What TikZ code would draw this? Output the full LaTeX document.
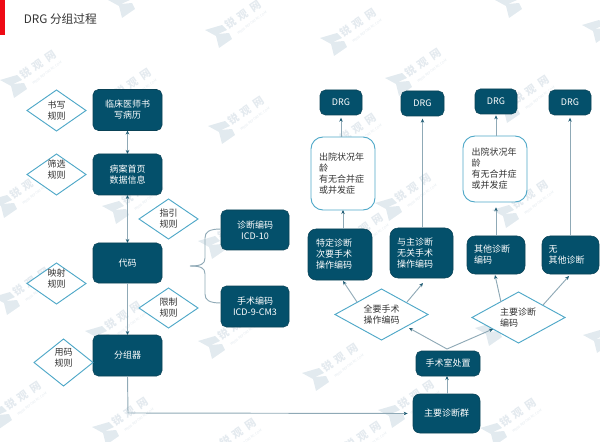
\documentclass[tikz,border=0pt]{standalone}
\usepackage{fontspec}
\setmainfont{Noto Sans CJK SC}
\usetikzlibrary{shapes.geometric,arrows.meta,calc}
\definecolor{boxc}{HTML}{04506B}
\definecolor{boxl}{HTML}{0A4256}
\definecolor{diac}{HTML}{4FA8C8}
\definecolor{linec}{HTML}{8FA9B6}
\definecolor{tipc}{HTML}{1F5C74}
\definecolor{txtc}{HTML}{333333}
\definecolor{wmc}{HTML}{E4EAEF}
\definecolor{wmd}{HTML}{E2EAEF}
\definecolor{barc}{HTML}{EE0A14}
\tikzset{
  x=0.75pt,y=-0.75pt,
  sz/.style 2 args={minimum width=#1*0.75pt,minimum height=#2*0.75pt,inner sep=0pt,outer sep=0pt},
  lab/.style={font=\fontsize{6.75}{8.25}\selectfont,align=center,text=txtc},
  boxn/.style={draw=boxl,line width=0.4pt,fill=boxc,rounded corners=4pt,text=white,align=center,font=\fontsize{6.75}{8.25}\selectfont},
  boxleft/.style={boxn,rounded corners=6pt,align=left,text width=#1*0.75pt},
  whiten/.style={draw=diac,line width=0.7pt,fill=white,rounded corners=9pt,text=txtc,font=\fontsize{6.75}{8.25}\selectfont,align=left,text width=#1*0.75pt},
  dia/.style={diamond,draw=diac,line width=0.7pt,fill=white},
  conn/.style={draw=linec,line width=0.7pt,-{Stealth[length=3pt,width=2.6pt,color=tipc]}},
  conn2/.style={draw=linec,line width=0.7pt,{Stealth[length=3pt,width=2.6pt,color=tipc]}-{Stealth[length=3pt,width=2.6pt,color=tipc]}},
  plain/.style={draw=linec,line width=0.7pt},
  wmlogo/.pic={\fill[wmd] (-15,-7) -- (2,-12) -- (7,-7) -- (-2,-3) -- (9,-4) -- (12,2) -- (-1,11) -- (-4,-1) -- cycle;},
  wmtext/.style={rotate=34,text=wmc,font=\bfseries\fontsize{8}{8}\selectfont,inner sep=0pt},
  wmurl/.style={rotate=37,text=wmc,font=\fontsize{2.6}{3}\selectfont,inner sep=0pt},
}
\begin{document}
\begin{tikzpicture}
\useasboundingbox (0,0) rectangle (600,442);
\begin{scope}
\clip (0,0) rectangle (600,442);
% logos whose lettering runs off the page
\foreach \wx/\wy in {123/7,510/7,597/32,598/342}{
  \pic at (\wx,\wy) {wmlogo};
}
\foreach \i/\wx/\wy in {1/15/87,3/220/37,4/223/133,5/5/207,6/117/213,7/110/105,8/8/304,9/100/338,10/0/418,11/107/434,12/213/348,13/213/248,14/335/45,15/400/85,18/508/112,19/335/150,20/507/217,21/390/210,22/342/250,23/317/380,24/490/335,25/393/417,26/495/435,28/215/455,29/340/458}{
  \pic at (\wx,\wy) {wmlogo};
  \node[wmtext] (wmt\i) at ($(\wx,\wy)+(23,-22)$) {锐\hspace{3.5pt}观\hspace{3.5pt}网};
  \node[wmurl] (wmu\i) at ($(\wx,\wy)+(32,-14)$) {WWW.REPORTRC.COM};
}
\end{scope}
\fill[barc] (0,0) rectangle (5,35);
\node[anchor=west,inner sep=0pt,text=txtc,font=\fontsize{8.8}{10}\selectfont] (title) at (23.5,19.5) {DRG 分组过程};
% left column
\node[boxn,sz={69}{41}] (a) at (127.5,110) {临床医师书\\写病历};
\node[boxn,sz={69}{41}] (b) at (127.5,174.5) {病案首页\\数据信息};
\node[boxn,sz={69}{40}] (c) at (127.5,263) {代码};
\node[boxn,sz={69}{41}] (d) at (127.5,355.5) {分组器};
\node[boxn,sz={68}{40}] (e) at (255,230) {诊断编码\\ICD-10};
\node[boxn,sz={68}{41}] (f) at (255,306.5) {手术编码\\ICD-9-CM3};
% diamonds
\node[dia,sz={59}{41},shape aspect=1.44,lab] (r1) at (56.5,110.5) {书写\\规则};
\node[dia,sz={59}{41},shape aspect=1.44,label={[lab,yshift=3.75pt]center:筛选\\规则}] (r2) at (56.5,174.5) {};
\node[dia,sz={59}{40},shape aspect=1.47,lab] (r3) at (168.5,219) {指引\\规则};
\node[dia,sz={59}{41},shape aspect=1.44,label={[lab,yshift=3.75pt]center:映射\\规则}] (r4) at (56.5,283.5) {};
\node[dia,sz={59}{40},shape aspect=1.47,lab] (r5) at (168.5,308) {限制\\规则};
\node[dia,sz={59}{47},shape aspect=1.255,label={[lab,yshift=3.75pt]center:用码\\规则}] (r6) at (63.5,362.5) {};
% right
\node[boxn,sz={42}{25}] (g1) at (341,102.5) {DRG};
\node[boxn,sz={43}{25}] (g2) at (422.5,103.5) {DRG};
\node[boxn,sz={42}{25}] (g3) at (496,101.5) {DRG};
\node[boxn,sz={42}{25}] (g4) at (570,102.5) {DRG};
\node[whiten=48,sz={64}{73}] (w1) at (343,173.5) {出院状况年\\龄\\有无合并症\\或并发症};
\node[whiten=47,sz={64}{66}] (w2) at (495,169) {出院状况年\\龄\\有无合并症\\或并发症};
\node[boxleft=48,sz={64}{51}] (s1) at (340,254.5) {特定诊断\\次要手术\\操作编码};
\node[boxleft=49,sz={63}{50}] (s2) at (421.5,253) {与主诊断\\无关手术\\操作编码};
\node[boxleft=44,sz={58}{38}] (s3) at (496,255) {其他诊断\\编码};
\node[boxleft=44,sz={57}{38}] (s4) at (570.5,255) {无\\其他诊断};
\node[dia,sz={93}{51},shape aspect=1.82,lab] (q1) at (381.5,314.5) {全要手术\\操作编码};
\node[dia,sz={93}{51},shape aspect=1.82,lab,align=left,text width=37*0.75pt] (q2) at (518.5,317.5) {主要诊断\\编码};
\node[boxn,sz={64}{25}] (h) at (448,363.5) {手术室处置};
\node[boxn,sz={67}{39},rounded corners=5pt] (m) at (446.5,413.5) {主要诊断群};
% connectors
\draw[conn2] (a.south) -- (b.north);
\draw[conn2] (c.north) -- (b.south);
\draw[conn] (c.south) -- (d.north);
\coordinate (elbow) at (128,413);
\draw[conn,shorten >=4pt] (d.south) -- (elbow) -- (m.west);
\coordinate (bt) at (190,266);
\coordinate (bm) at (205,258);
\coordinate (bn) at (205,274);
\coordinate (bu) at (205,238);
\coordinate (bd) at (205,294);
\draw[plain] (e.west |- 0,229) .. controls (209,229) and (205,232) .. (bu) -- (bm) .. controls (205,264) and (201,266) .. (bt);
\draw[plain] (f.west |- 0,303) .. controls (209,303) and (205,300) .. (bd) -- (bn) .. controls (205,268) and (201,266) .. (bt);
\draw[conn,shorten >=2pt] (w1.north -| g1) -- (g1.south);
\draw[conn] (s1.north -| 343,0) -- (w1.south -| 343,0);
\draw[conn,shorten >=2pt] (s2.north -| g2) -- (g2.south);
\draw[conn,shorten >=1pt] (w2.north -| g3) -- (g3.south);
\draw[conn,shorten >=4pt] (s3.north) -- (w2.south -| s3);
\draw[conn,shorten >=2pt] (s4.north -| g4) -- (g4.south);
\draw[conn] ($(q1.center)+(-24.5,-12.5)$) -- ($(s1.south)+(3,1)$);
\draw[conn] ($(q1.center)+(25.5,-12.5)$) -- ($(s2.south)+(1.5,5)$);
\draw[conn] ($(q2.center)+(-17.5,-15.5)$) -- ($(s3.south)+(-1,1)$);
\draw[conn] ($(q2.center)+(24.5,-12.5)$) -- ($(s4.south)+(-1.5,2)$);
\coordinate (fork) at (447,349);
\draw[conn] (fork) -- ($(q1.center)+(27.5,13.5)$);
\draw[conn] (fork) -- ($(q2.center)+(-25.5,11.5)$);
\draw[conn] (m.north -| 447,0) -- (h.south -| 447,0);
\end{tikzpicture}
\end{document}
